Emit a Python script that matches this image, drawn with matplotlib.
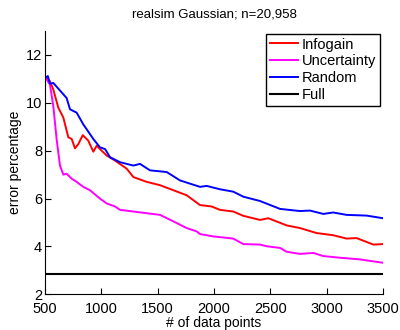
import matplotlib
matplotlib.use("Agg")
import matplotlib.pyplot as plt

plt.rcParams['font.family'] = ['Liberation Sans', 'DejaVu Sans']

# valores
x_info = [505, 544, 574, 618, 663, 707, 737, 766, 796, 835, 884, 929, 959, 988,
          1047, 1121, 1225, 1284, 1402, 1521, 1639, 1757, 1876, 1979, 2053, 2171,
          2260, 2408, 2482, 2645, 2763, 2911, 3058, 3177, 3266, 3414, 3500]
y_info = [11.05, 10.9, 10.55, 9.8, 9.38, 8.56, 8.49, 8.1, 8.28, 8.65, 8.42, 7.96,
          8.21, 8.07, 7.8, 7.59, 7.25, 6.9, 6.7, 6.56, 6.35, 6.14, 5.73, 5.67,
          5.53, 5.46, 5.28, 5.11, 5.18, 4.88, 4.77, 4.56, 4.47, 4.33, 4.35, 4.08, 4.1]

x_unc = [505, 544, 574, 603, 633, 663, 692, 737, 781, 840, 899, 988, 1047, 1121,
         1166, 1284, 1402, 1521, 1639, 1757, 1846, 1876, 1994, 2171, 2260, 2408,
         2467, 2586, 2645, 2763, 2882, 2970, 3118, 3296, 3500]
y_unc = [11.05, 10.76, 9.86, 8.49, 7.38, 7.0, 7.04, 6.83, 6.7, 6.49, 6.35, 6.0,
         5.8, 5.67, 5.53, 5.46, 5.39, 5.32, 5.05, 4.77, 4.63, 4.52, 4.42, 4.33,
         4.1, 4.08, 4.01, 3.94, 3.78, 3.69, 3.73, 3.6, 3.53, 3.46, 3.32]

x_rand = [505, 525, 544, 574, 692, 722, 781, 840, 929, 988, 1033, 1077, 1166,
          1284, 1343, 1432, 1580, 1698, 1876, 1935, 2053, 2171, 2260, 2408, 2586,
          2763, 2852, 2970, 3058, 3177, 3355, 3500]
y_rand = [11.05, 11.12, 10.8, 10.83, 10.2, 9.73, 9.59, 9.1, 8.49, 8.14, 8.07,
          7.73, 7.52, 7.38, 7.45, 7.18, 7.11, 6.76, 6.49, 6.53, 6.39, 6.29, 6.08,
          5.9, 5.57, 5.48, 5.5, 5.36, 5.42, 5.32, 5.29, 5.18]

full = 2.85

fig = plt.figure(figsize=(4, 3.3), dpi=100)
ax = fig.add_axes([0.1125, 0.108, 0.845, 0.798])

ax.plot(x_info, y_info, color='red', lw=1.4, label='Infogain')
ax.plot(x_unc, y_unc, color='magenta', lw=1.4, label='Uncertainty')
ax.plot(x_rand, y_rand, color='blue', lw=1.4, label='Random')
ax.plot([500, 3500], [full, full], color='black', lw=1.5, label='Full')

ax.set_xlim(500, 3500)
ax.set_ylim(2, 13)
ax.set_xticks([500, 1000, 1500, 2000, 2500, 3000, 3500])
ax.set_yticks([2, 4, 6, 8, 10, 12])
ax.tick_params(direction='in', length=4, labelsize=10.5)
ax.tick_params(axis='y', pad=2)
ax.tick_params(axis='x', pad=5.5)
ax.spines['top'].set_visible(False)
ax.spines['right'].set_visible(False)
ax.set_title('realsim Gaussian; n=20,958', fontsize=9.5, pad=10)
ax.set_xlabel('# of data points', fontsize=10, labelpad=0)
ax.set_ylabel('error percentage', fontsize=10, labelpad=3)

leg = ax.legend(loc='upper right', fontsize=10.5, frameon=True, fancybox=False,
                edgecolor='black', framealpha=1, handlelength=1.9,
                handletextpad=0.3, borderpad=0.25, labelspacing=0.2,
                borderaxespad=0.2)
leg.get_frame().set_linewidth(1.0)

fig.savefig('out.png', dpi=100)
